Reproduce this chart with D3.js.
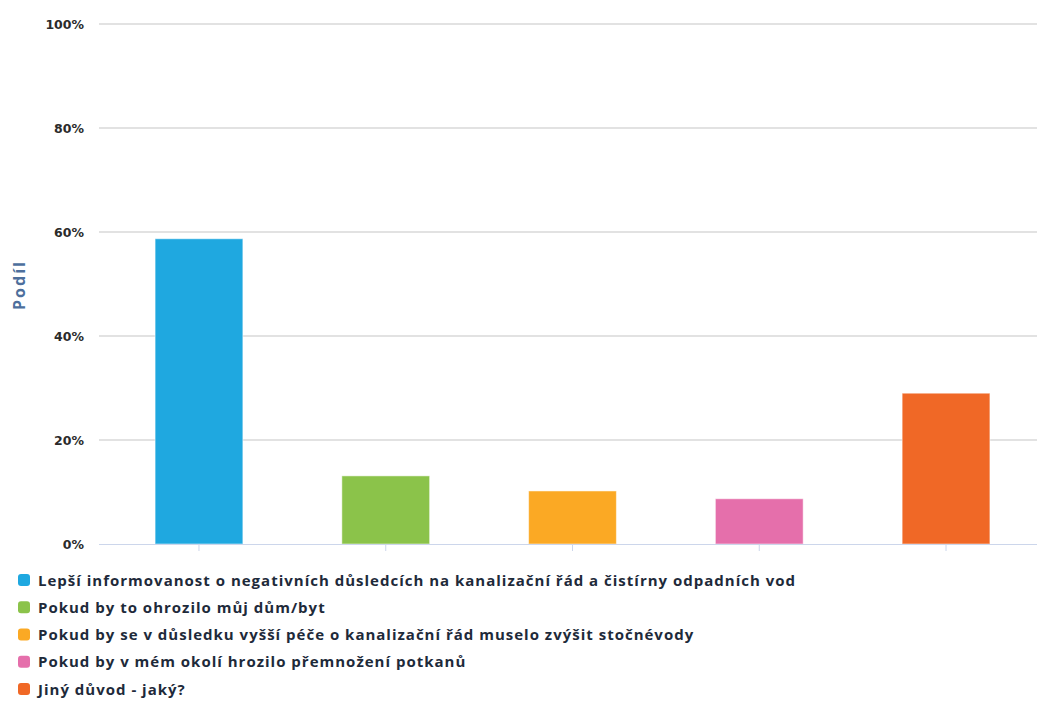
<!DOCTYPE html>
<html>
<head>
<meta charset="utf-8">
<script src="https://cdn.jsdelivr.net/npm/d3@7"></script>
<style>
  html, body { margin: 0; padding: 0; background: #fff; }
  svg { display: block; }
</style>
</head>
<body>
<script>
const categories = [
  "Lepší informovanost o negativních důsledcích na kanalizační řád a čistírny odpadních vod",
  "Pokud by to ohrozilo můj dům/byt",
  "Pokud by se v důsledku vyšší péče o kanalizační řád muselo zvýšit stočnévody",
  "Pokud by v mém okolí hrozilo přemnožení potkanů",
  "Jiný důvod - jaký?"
];
const values = [58.7, 13.1, 10.2, 8.7, 29.0];
const colors = ["#1fa8e0", "#8bc34a", "#fba924", "#e56fab", "#f06826"];
const yTicks = [0, 20, 40, 60, 80, 100];
const yTitle = "Podíl";

const W = 1039, H = 704;
const plotLeft = 99, plotRight = 1037;

const svg = d3.select("body").append("svg").attr("width", W).attr("height", H);

const x = d3.scaleBand().domain(d3.range(categories.length))
  .range([105.6, 1039.4]).paddingInner(0.53).paddingOuter(0.265);
const y = d3.scaleLinear().domain([0, 100]).range([544, 24]);

// gridlines
svg.append("g").selectAll("line").data(yTicks.filter(d => d > 0)).join("line")
  .attr("x1", plotLeft).attr("x2", plotRight)
  .attr("y1", d => y(d)).attr("y2", d => y(d))
  .attr("stroke", "#d9d9d9").attr("stroke-width", 1.5);

// y axis labels
const yAxis = d3.axisLeft(y).tickValues(yTicks).tickFormat(d => d + "%").tickSize(0).tickPadding(15);
const yg = svg.append("g").attr("transform", `translate(${plotLeft},0)`).call(yAxis);
yg.select(".domain").remove();
yg.selectAll("text")
  .attr("font-family", "DejaVu Sans")
  .attr("font-weight", "bold")
  .attr("font-size", 12.5)
  .attr("fill", "#2b2b2b");

// y title
svg.append("text")
  .attr("transform", "translate(25,285) rotate(-90)")
  .attr("text-anchor", "middle")
  .attr("font-family", "Open Sans")
  .attr("font-weight", "bold")
  .attr("font-size", 16)
  .attr("letter-spacing", 2)
  .attr("fill", "#4d6f9c")
  .text(yTitle);

// bars
svg.append("g").selectAll("rect").data(values).join("rect")
  .attr("x", (d, i) => x(i))
  .attr("width", x.bandwidth())
  .attr("y", d => y(d))
  .attr("height", d => y(0) - y(d))
  .attr("fill", (d, i) => colors[i])
  .attr("stroke", "#ffffff").attr("stroke-width", 1).attr("stroke-opacity", 0.5);

// x axis
const xAxis = d3.axisBottom(x).tickFormat("").tickSize(7).tickSizeOuter(0);
const xg = svg.append("g").attr("transform", "translate(0,544)").call(xAxis);
xg.select(".domain").attr("stroke", "#ccd6eb").attr("d", `M${plotLeft},0.5H${plotRight}`);
xg.selectAll(".tick line").attr("stroke", "#ccd6eb");

// legend
const lg = svg.append("g");
const rowY = d3.scaleLinear().domain([0, 4]).range([580, 689]);
const items = lg.selectAll("g").data(categories).join("g")
  .attr("transform", (d, i) => `translate(0,${rowY(i)})`);
items.append("rect")
  .attr("x", 18).attr("y", -6).attr("width", 12).attr("height", 12)
  .attr("rx", 3).attr("fill", (d, i) => colors[i]);
items.append("text")
  .attr("x", 38).attr("y", 5.5)
  .attr("font-family", "Open Sans")
  .attr("font-weight", "bold")
  .attr("font-size", 15)
  .attr("letter-spacing", 1)
  .attr("fill", "#1e2a3a")
  .text(d => d);
</script>
</body>
</html>
